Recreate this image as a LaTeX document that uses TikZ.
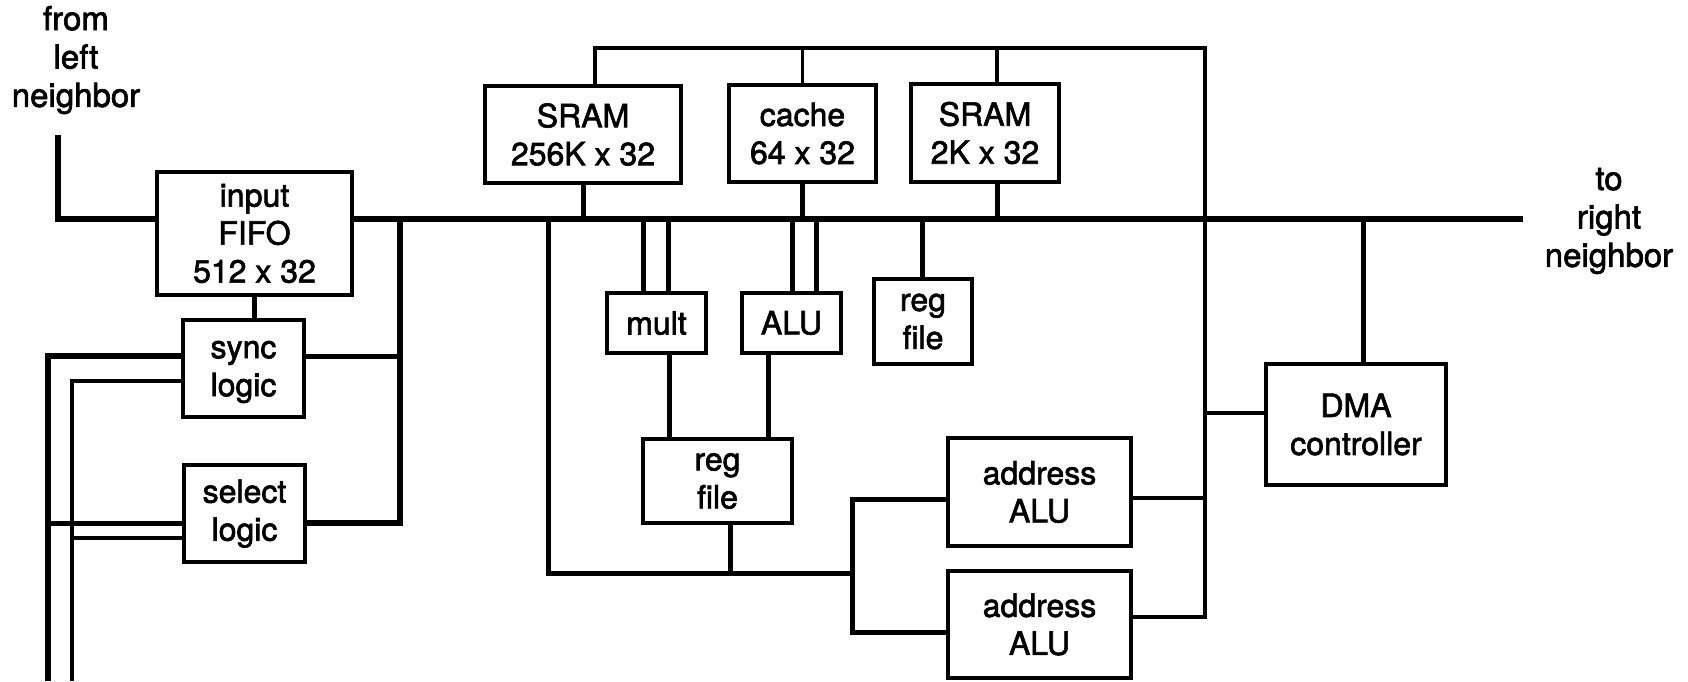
\documentclass[tikz,border=0pt]{standalone}
\usepackage{fontspec}
\setmainfont{TeX Gyre Heros}[FakeBold=2]
\begin{document}
\begin{tikzpicture}[x=0.5pt,y=-0.5pt,
  % a block given by its corners in the drawing's units: {x1}{y1}{x2}{y2}
  box/.style n args={4}{at={({(#1+#3)/2},{(#2+#4)/2})},
    minimum width={(#3-#1)*0.5pt}, minimum height={(#4-#2)*0.5pt}},
  blk/.style={draw, line width=1.7pt, inner sep=0pt, align=center,
    font=\fontsize{16}{19}\selectfont},
  lbl/.style={align=center, inner sep=0pt, font=\fontsize{16.5}{19.2}\selectfont},
  bus/.style={line width=3.4pt},
  wire/.style={line width=2.5pt},
  thin/.style={line width=1.6pt},
  line join=miter]
\useasboundingbox (0,0) rectangle (1688,681);

% ---- blocks ----
\node[blk, box={157}{172}{352}{295}] (fifo) {input\\FIFO\\512 x 32};
\node[blk, box={183}{320}{304}{417}, text depth=-5pt] (sync) {sync\\logic};
\node[blk, box={184}{465}{305}{562}] (sel) {select\\logic};
\node[blk, box={485}{86}{681}{183}] (sram1) {SRAM\\256K x 32};
\node[blk, box={729}{85}{876}{182}] (cache) {cache\\64 x 32};
\node[blk, box={911}{84}{1059}{182}] (sram2) {SRAM\\2K x 32};
\node[blk, box={607}{293}{706}{353}] (mult) {mult};
\node[blk, box={742}{293}{841}{353}] (alu) {ALU};
\node[blk, box={874}{279}{972}{364}] (rfa) {reg\\file};
\node[blk, box={643}{439}{792}{523}] (rfb) {reg\\file};
\node[blk, box={948}{438}{1131}{546}] (aalu1) {address\\ALU};
\node[blk, box={948}{571}{1131}{678}] (aalu2) {address\\ALU};
\node[blk, box={1266}{364}{1446}{485}] (dma) {DMA\\controller};

% ---- labels ----
\node[lbl] (from) at (76,60) {from\\left\\neighbor};
\node[lbl] (to) at (1609,221) {to\\right\\neighbor};

% ---- junction points ----
\coordinate (inTop) at (58,135);
\coordinate (busEnd) at (1523,219);
\coordinate (lv) at (400,523);
\coordinate (sy) at (400,356);
\coordinate (o1) at (48,681);
\coordinate (o1t) at (48,356);
\coordinate (o2) at (48,523);
\coordinate (i1) at (72,681);
\coordinate (i1t) at (72,381);
\coordinate (i2) at (72,538);
\coordinate (tl) at (595,48);
\coordinate (t3) at (997,48);
\coordinate (tr) at (1205,48);
\coordinate (rb) at (1205,617);
\coordinate (ra1) at (1205,498);
\coordinate (rd) at (1205,413);
\coordinate (dx) at (1363,219);
\coordinate (la) at (548,219);
\coordinate (lb) at (548,573);
\coordinate (lc) at (852,573);
\coordinate (va) at (852,499);
\coordinate (vb) at (852,632);
\coordinate (rfx) at (730,573);
\coordinate (m1) at (643,219);
\coordinate (m2) at (668,219);
\coordinate (a1) at (792,219);
\coordinate (a2) at (816,219);
\coordinate (r1) at (922,219);
\coordinate (m3) at (669,0);
\coordinate (a3) at (768,0);

% ---- main bus ----
\draw[bus] (inTop) |- (fifo.west |- busEnd);
\draw[bus] (fifo.east |- busEnd) -- (busEnd);

% ---- input side ----
\draw[wire] (fifo.south) -- (fifo.south |- sync.north);
\draw[bus] (lv |- busEnd) -- (lv) -- (sel.east |- lv);
\draw[wire] (sy) -- (sync.east |- sy);
\draw[line width=3pt] (o1) -- (o1t) -- (sync.west |- o1t);
\draw[thin] (i1) -- (i1t) -- (sync.west |- i1t);
\draw[wire] (o2) -- (sel.west |- o2);
\draw[thin] (i2) -- (sel.west |- i2);

% ---- memory ring ----
\draw[thin] ([xshift=6pt]sram1.north) -- (tl) -- (tr) -- (rb) -- (aalu2.east |- rb);
\draw[thin] (cache.north) -- (cache.north |- tl);
\draw[thin] (sram2.north -| t3) -- (t3);
\draw[thin] (aalu1.east |- ra1) -- (ra1);
\draw[thin] (rd) -- (dma.west |- rd);

% ---- memories to bus ----
\draw[wire] (sram1.south) -- (sram1.south |- busEnd);
\draw[wire] (cache.south) -- (cache.south |- busEnd);
\draw[wire] (sram2.south -| t3) -- (t3 |- busEnd);

% ---- datapath ----
\draw[wire] (m1) -- (mult.north -| m1);
\draw[wire] (m2) -- (mult.north -| m2);
\draw[wire] (a1) -- (alu.north -| a1);
\draw[wire] (a2) -- (alu.north -| a2);
\draw[wire] (r1) -- (rfa.north -| r1);
\draw[wire] (mult.south -| m3) -- (rfb.north -| m3);
\draw[wire] (alu.south -| a3) -- (rfb.north -| a3);
\draw[wire] (la) -- (lb) -- (lc);
\draw[wire] (rfb.south -| rfx) -- (rfx);
\draw[wire] (aalu1.west |- va) -- (va) -- (vb) -- (aalu2.west |- vb);

% ---- DMA ----
\draw[wire] (dx) -- (dma.north -| dx);
\end{tikzpicture}
\end{document}
